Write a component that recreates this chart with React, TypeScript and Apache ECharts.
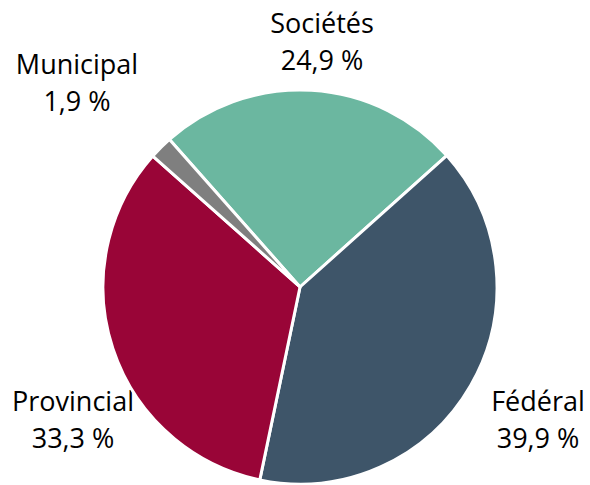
import React, { useEffect, useRef } from "react";
import * as echarts from "echarts";

const categories = ["Sociétés", "Fédéral", "Provincial", "Municipal"];
const values = [24.9, 39.9, 33.3, 1.9];
const colors = ["#6BB7A0", "#3E5569", "#990537", "#7F7F7F"];
const labelCenters = [
  [322, 41],
  [538, 419],
  [73, 419],
  [77, 82],
];

const fmt = (v: number) => v.toFixed(1).replace(".", ",") + " %";

export default function App() {
  const ref = useRef<HTMLDivElement>(null);
  useEffect(() => {
    if (!ref.current) return;
    const chart = echarts.init(ref.current, null, { renderer: "svg" });
    chart.setOption({
      animation: false,
      backgroundColor: "#ffffff",
      graphic: categories.map((c, i) => ({
        type: "text",
        x: labelCenters[i][0],
        y: labelCenters[i][1],
        style: {
          text: c + "\n" + fmt(values[i]),
          fontFamily: "Open Sans",
          fontSize: 27,
          lineHeight: 37,
          fill: "#000000",
          align: "center",
          verticalAlign: "middle",
        },
      })),
      series: [
        {
          type: "pie",
          center: [300, 287],
          radius: 197,
          startAngle: 131.5,
          clockwise: true,
          itemStyle: { borderColor: "#ffffff", borderWidth: 3 },
          label: { show: false },
          labelLine: { show: false },
          emphasis: { disabled: true },
          data: categories.map((c, i) => ({
            name: c,
            value: values[i],
            itemStyle: { color: colors[i] },
          })),
        },
      ],
    });
    return () => chart.dispose();
  }, []);
  return (
    <div
      ref={ref}
      style={{ position: "fixed", left: 0, top: 0, width: 590, height: 485 }}
    />
  );
}
